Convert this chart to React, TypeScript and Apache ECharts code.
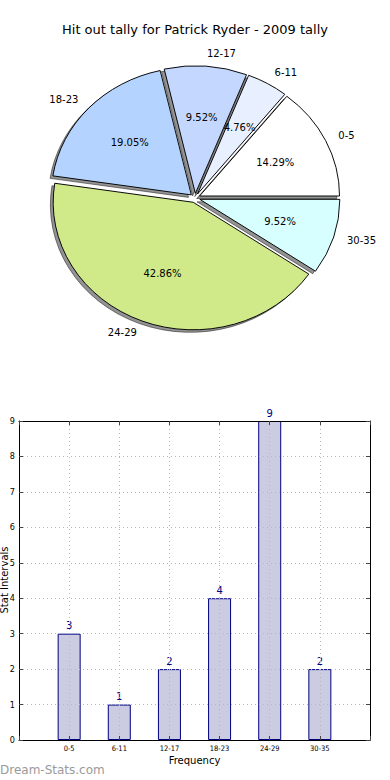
import React, { useEffect, useRef } from "react";
import * as echarts from "echarts";

const TITLE = "Hit out tally for Patrick Ryder - 2009 tally";
const CATEGORIES = ["0-5", "6-11", "12-17", "18-23", "24-29", "30-35"];
const COUNTS = [3, 1, 2, 4, 9, 2];
const PIE_COLORS = ["#ffffff", "#e8f0ff", "#c4d8ff", "#b4d4ff", "#d0ea8a", "#d8ffff"];
const X_AXIS_NAME = "Frequency";
const Y_AXIS_NAME = "Stat Intervals";
const WATERMARK = "Dream-Stats.com";

const FONT = "DejaVu Sans";

export default function App() {
  const ref = useRef<HTMLDivElement>(null);

  useEffect(() => {
    document.body.style.margin = "0";
    const chart = echarts.init(ref.current!, undefined, { renderer: "svg" });

    const CX = 195;
    const CY = 198;
    const RX = 140;
    const RY = 127.5;
    const K = RY / RX;
    const EXPLODE = 0.036;
    const SH_X = -2.8;
    const SH_Y = 2.5;

    const total = COUNTS.reduce((a, b) => a + b, 0);
    const angles = (i: number) => {
      let s = 0;
      for (let j = 0; j < i; j++) s += COUNTS[j];
      const t1 = (s / total) * Math.PI * 2;
      const t2 = ((s + COUNTS[i]) / total) * Math.PI * 2;
      return { t1, t2, mid: (t1 + t2) / 2 };
    };

    const pieData = COUNTS.map((v, i) => ({ value: v, name: CATEGORIES[i] }));

    const wedge = (i: number, dx: number, dy: number, style: any) => {
      const { t1, t2, mid } = angles(i);
      const ex = EXPLODE * RX * Math.cos(mid);
      const ey = -EXPLODE * RY * Math.sin(mid);
      return {
        type: "group",
        x: CX + ex + dx,
        y: CY + ey + dy,
        scaleY: K,
        children: [
          {
            type: "sector",
            shape: { cx: 0, cy: 0, r0: 0, r: RX, startAngle: -t2, endAngle: -t1, clockwise: true },
            style: { ...style, strokeNoScale: true },
          },
        ],
      };
    };

    const option: any = {
      animation: false,
      textStyle: { fontFamily: FONT },
      title: {
        text: TITLE,
        left: "center",
        top: 23,
        padding: 0,
        textStyle: { fontSize: 13, fontWeight: "normal", color: "#000", fontFamily: FONT },
      },
      grid: { left: 19, right: 20, top: 421, bottom: 40, containLabel: false, outerBoundsMode: "none" },
      xAxis: [
        {
          type: "value",
          min: 0,
          max: 7,
          interval: 1,
          position: "bottom",
          z: 3,
          axisLine: { show: true, onZero: false, lineStyle: { color: "#000", width: 1 } },
          axisTick: { show: true, inside: true, length: 4, lineStyle: { color: "#444" } },
          axisLabel: {
            formatter: (v: number) => CATEGORIES[v - 1] ?? "",
            fontSize: 7.5,
            fontFamily: "DejaVu Sans Condensed",
            color: "#000",
            margin: 4,
          },
          splitLine: { show: true, lineStyle: { color: "#b8b8b8", type: [1, 3], width: 1 } },
          name: X_AXIS_NAME,
          nameLocation: "middle",
          nameGap: 15,
          nameTextStyle: { fontSize: 10, color: "#000", fontFamily: FONT },
        },
        {
          type: "value",
          min: 0,
          max: 7,
          interval: 1,
          position: "top",
          z: 3,
          axisLine: { show: true, onZero: false, lineStyle: { color: "#000", width: 1 } },
          axisTick: { show: true, inside: true, length: 4, lineStyle: { color: "#444" } },
          axisLabel: { show: false },
          splitLine: { show: false },
        },
      ],
      yAxis: [
        {
          type: "value",
          min: 0,
          max: 9,
          interval: 1,
          position: "left",
          z: 3,
          axisLine: { show: true, onZero: false, lineStyle: { color: "#000", width: 1 } },
          axisTick: { show: true, inside: true, length: 4, lineStyle: { color: "#444" } },
          axisLabel: { fontSize: 9, fontFamily: "DejaVu Sans Condensed", color: "#000", margin: 4 },
          splitLine: { show: true, lineStyle: { color: "#b8b8b8", type: [1, 3], width: 1 } },
        },
        {
          type: "value",
          min: 0,
          max: 9,
          interval: 1,
          position: "right",
          z: 3,
          axisLine: { show: true, onZero: false, lineStyle: { color: "#000", width: 1 } },
          axisTick: { show: true, inside: true, length: 4, lineStyle: { color: "#444" } },
          axisLabel: { show: false },
          splitLine: { show: false },
        },
      ],
      series: [
        {
          type: "custom",
          coordinateSystem: "none",
          z: 1,
          data: pieData,
          renderItem: (params: any) => {
            const i = params.dataIndex;
            return wedge(i, SH_X, SH_Y, {
              fill: "rgba(40,40,40,0.5)",
              stroke: "rgba(40,40,40,0.6)",
              lineWidth: 1,
            });
          },
        },
        {
          type: "custom",
          coordinateSystem: "none",
          z: 2,
          data: pieData,
          renderItem: (params: any, api: any) => {
            const i = params.dataIndex;
            const v = api.value(0);
            const { mid } = angles(i);
            const c = Math.cos(mid);
            const s = Math.sin(mid);
            const lx = CX + (EXPLODE + 1.1) * RX * c;
            const ly = CY - (EXPLODE + 1.1) * RY * s;
            const px = CX + (EXPLODE + 0.6) * RX * c;
            const py = CY - (EXPLODE + 0.6) * RY * s;
            return {
              type: "group",
              children: [
                wedge(i, 0, 0, { fill: PIE_COLORS[i], stroke: "#000", lineWidth: 1 }),
                {
                  type: "text",
                  x: lx,
                  y: ly,
                  style: {
                    text: CATEGORIES[i],
                    fill: "#000",
                    fontSize: 10,
                    fontFamily: FONT,
                    align: c > 0 ? "left" : "right",
                    verticalAlign: "middle",
                  },
                },
                {
                  type: "text",
                  x: px,
                  y: py,
                  style: {
                    text: ((v / total) * 100).toFixed(2) + "%",
                    fill: "#000",
                    fontSize: 10,
                    fontFamily: FONT,
                    align: "center",
                    verticalAlign: "middle",
                  },
                },
              ],
            };
          },
        },
        {
          type: "bar",
          xAxisIndex: 0,
          yAxisIndex: 0,
          z: 2,
          barWidth: 23,
          data: COUNTS.map((v, i) => [i + 1, v]),
          itemStyle: { color: "#cbcbe2", borderColor: "#000080", borderWidth: 1 },
          label: {
            show: true,
            position: "top",
            distance: 3,
            color: "#000080",
            fontSize: 10,
            fontFamily: FONT,
            formatter: (p: any) => String(p.value[1]),
          },
        },
      ],
      graphic: [
        {
          type: "text",
          x: 9,
          y: 580,
          rotation: Math.PI / 2,
          style: {
            text: Y_AXIS_NAME,
            fill: "#000",
            fontSize: 10,
            fontFamily: FONT,
            align: "center",
            verticalAlign: "bottom",
          },
        },
        {
          type: "text",
          left: 0,
          top: 764,
          style: { text: WATERMARK, fill: "#9a9a9a", fontSize: 12, fontFamily: FONT },
        },
      ],
    };

    chart.setOption(option);
    return () => chart.dispose();
  }, []);

  return <div ref={ref} style={{ width: 390, height: 780 }} />;
}
